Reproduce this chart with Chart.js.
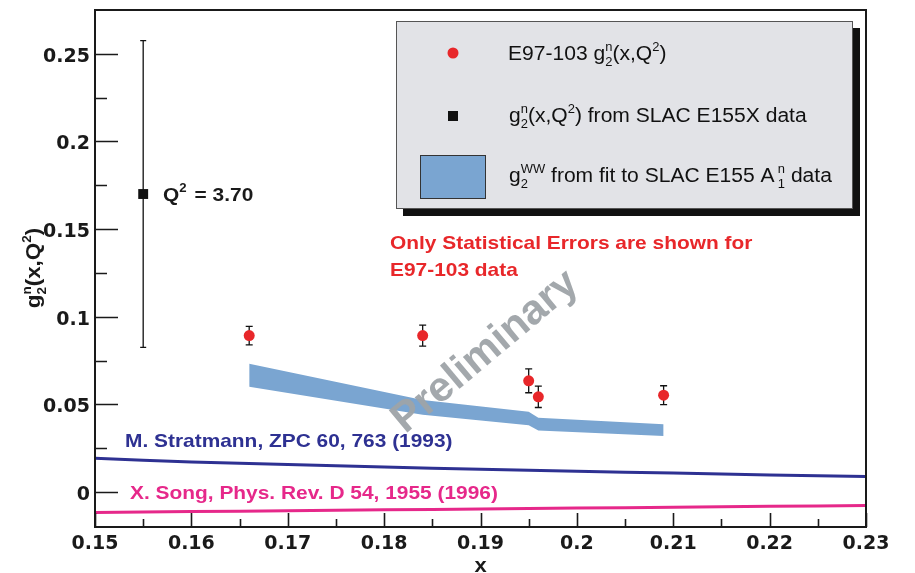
<!DOCTYPE html>
<html>
<head>
<meta charset="utf-8">
<script src="https://cdn.jsdelivr.net/npm/chart.js@4.4.1/dist/chart.umd.min.js"></script>
<style>
  html, body { margin: 0; padding: 0; background: #ffffff; }
  #wrap { width: 915px; height: 573px; }
</style>
</head>
<body>
<div id="wrap"><canvas id="c" width="915" height="573"></canvas></div>
<script>
// ---------------- DATA ----------------
const xTicks = [0.15, 0.16, 0.17, 0.18, 0.19, 0.20, 0.21, 0.22, 0.23];
const xTickLabels = ['0.15', '0.16', '0.17', '0.18', '0.19', '0.2', '0.21', '0.22', '0.23'];
const xMinorTicks = [0.155, 0.165, 0.175, 0.185, 0.195, 0.205, 0.215, 0.225];
const yTicks = [0, 0.05, 0.10, 0.15, 0.20, 0.25];
const yTickLabels = ['0', '0.05', '0.1', '0.15', '0.2', '0.25'];
const yMinorTicks = [0.025, 0.075, 0.125, 0.175, 0.225];

// E97-103 g2n points
const e97X   = [0.166, 0.184, 0.195, 0.196, 0.209];
const e97Y   = [0.0892, 0.0892, 0.0634, 0.0543, 0.0552];
const e97Err = [0.0053, 0.0060, 0.0068, 0.0061, 0.0054];

// SLAC E155X point
const e155X   = [0.155];
const e155Y   = [0.170];
const e155Err = [0.0875];

// g2 WW band
const bandX     = [0.166, 0.184, 0.195, 0.196, 0.209];
const bandUpper = [0.0731, 0.0525, 0.0458, 0.0424, 0.0386];
const bandLower = [0.0600, 0.0440, 0.0380, 0.0351, 0.0319];

// model curves
const curveX       = [0.15, 0.16, 0.17, 0.18, 0.19, 0.20, 0.21, 0.22, 0.23];
const stratmannY   = [0.0192, 0.0171, 0.0156, 0.0142, 0.0129, 0.0118, 0.0108, 0.0097, 0.0088];
const songY        = [-0.0117, -0.0112, -0.0107, -0.0102, -0.0097, -0.0092, -0.0087, -0.0082, -0.0077];

// ---------------- STYLE ----------------
const RED = '#e8272a';
const BAND = '#7aa5d1';
const NAVY = '#2e3192';
const PINK = '#e6288a';
const FONT = '"Liberation Sans", Arial, Helvetica, sans-serif';
const TICKFONT = '"DejaVu Sans", "Liberation Sans", sans-serif';

const pts = (xs, ys) => xs.map((x, i) => ({ x: x, y: ys[i] }));

// rich text helper (supports superscript / subscript stacks)
function drawRich(ctx, parts, x, y, size, weight, color, align, sx) {
  const base = weight + ' ' + size + 'px ' + FONT;
  const small = weight + ' ' + Math.round(size * 0.62) + 'px ' + FONT;
  let w = 0;
  const items = [];
  for (const p of parts) {
    if (typeof p === 'string') {
      ctx.font = base;
      items.push({ t: p, x: w, dy: 0, f: base });
      w += ctx.measureText(p).width;
    } else {
      ctx.font = small;
      w += (p.lead || 0);
      let mw = 0;
      if (p.sup) { items.push({ t: p.sup, x: w, dy: -size * 0.47, f: small }); mw = Math.max(mw, ctx.measureText(p.sup).width); }
      if (p.sub) { items.push({ t: p.sub, x: w, dy: size * 0.30, f: small }); mw = Math.max(mw, ctx.measureText(p.sub).width); }
      w += mw + (p.trail || 0);
    }
  }
  ctx.save();
  ctx.translate(x, y);
  ctx.scale(sx || 1, 1);
  const off = align === 'center' ? -w / 2 : 0;
  ctx.fillStyle = color;
  ctx.textBaseline = 'alphabetic';
  ctx.textAlign = 'left';
  for (const it of items) { ctx.font = it.f; ctx.fillText(it.t, off + it.x, it.dy); }
  ctx.restore();
}

const decorPlugin = {
  id: 'decor',
  beforeDatasetsDraw(chart) {
    const ctx = chart.ctx;
    const xs = chart.scales.x, ys = chart.scales.y;
    ctx.save();
    ctx.strokeStyle = '#111';
    ctx.lineWidth = 1.3;
    const bar = (X, Y, E, cap) => {
      for (let i = 0; i < X.length; i++) {
        const px = xs.getPixelForValue(X[i]);
        const p1 = ys.getPixelForValue(Y[i] + E[i]);
        const p2 = ys.getPixelForValue(Y[i] - E[i]);
        ctx.beginPath();
        ctx.moveTo(px, p1); ctx.lineTo(px, p2);
        ctx.moveTo(px - cap, p1); ctx.lineTo(px + cap, p1);
        ctx.moveTo(px - cap, p2); ctx.lineTo(px + cap, p2);
        ctx.stroke();
      }
    };
    bar(e97X, e97Y, e97Err, 3.5);
    bar(e155X, e155Y, e155Err, 3);
    ctx.restore();
  },
  afterDatasetsDraw(chart) {
    const ctx = chart.ctx;
    const a = chart.chartArea;
    const xs = chart.scales.x, ys = chart.scales.y;
    ctx.save();
    // frame
    ctx.strokeStyle = '#1a1a1a';
    ctx.lineWidth = 2;
    ctx.strokeRect(a.left, a.top, a.right - a.left, a.bottom - a.top);
    // ticks (inside)
    ctx.lineWidth = 1.6;
    ctx.beginPath();
    for (const v of yTicks) { const p = Math.round(ys.getPixelForValue(v)) + 0.5; ctx.moveTo(a.left, p); ctx.lineTo(a.left + 23, p); }
    for (const v of yMinorTicks) { const p = Math.round(ys.getPixelForValue(v)) + 0.5; ctx.moveTo(a.left, p); ctx.lineTo(a.left + 12, p); }
    for (const v of xTicks) { const p = Math.round(xs.getPixelForValue(v)) + 0.5; ctx.moveTo(p, a.bottom); ctx.lineTo(p, a.bottom - 14); }
    for (const v of xMinorTicks) { const p = Math.round(xs.getPixelForValue(v)) + 0.5; ctx.moveTo(p, a.bottom); ctx.lineTo(p, a.bottom - 8); }
    ctx.stroke();

    // axis titles
    drawRich(ctx, ['x'], (a.left + a.right) / 2, 572, 20, 'bold', '#1a1a1a', 'center', 1.1);
    ctx.save();
    ctx.translate(40, 268);
    ctx.rotate(-Math.PI / 2);
    drawRich(ctx, ['g', { sup: 'n', sub: '2' }, '(x,Q', { sup: '2' }, ')'], 0, 0, 20, 'bold', '#1a1a1a', 'center', 1.12);
    ctx.restore();

    // annotations
    drawRich(ctx, ['Q', { sup: '2', trail: 2 }, ' = 3.70'], 163, 201, 19, 'bold', '#1a1a1a', 'left', 1.1);
    drawRich(ctx, ['Only Statistical Errors are shown for'], 390, 249, 19, 'bold', RED, 'left', 1.1);
    drawRich(ctx, ['E97-103 data'], 390, 276, 19, 'bold', RED, 'left', 1.1);
    drawRich(ctx, ['M. Stratmann, ZPC 60, 763 (1993)'], 125, 447, 19, 'bold', NAVY, 'left', 1.1);
    drawRich(ctx, ['X. Song, Phys. Rev. D 54, 1955 (1996)'], 130, 499, 19, 'bold', PINK, 'left', 1.1);

    // legend box with shadow
    ctx.fillStyle = '#111';
    ctx.fillRect(403, 28, 457, 188);
    ctx.fillStyle = '#e2e3e7';
    ctx.fillRect(396, 21, 457, 188);
    ctx.strokeStyle = '#555';
    ctx.lineWidth = 1;
    ctx.strokeRect(396.5, 21.5, 456, 187);
    // legend markers
    ctx.fillStyle = RED;
    ctx.beginPath(); ctx.arc(453, 53, 5.5, 0, Math.PI * 2); ctx.fill();
    ctx.fillStyle = '#111';
    ctx.fillRect(448, 111, 10, 10);
    ctx.fillStyle = BAND;
    ctx.fillRect(420, 155, 66, 44);
    ctx.strokeStyle = '#333';
    ctx.strokeRect(420.5, 155.5, 65, 43);
    // legend texts
    drawRich(ctx, ['E97-103 g', { sup: 'n', sub: '2' }, '(x,Q', { sup: '2' }, ')'], 508, 60, 19.5, 'normal', '#111', 'left', 1.08);
    drawRich(ctx, ['g', { sup: 'n', sub: '2' }, '(x,Q', { sup: '2' }, ') from SLAC E155X data'], 509, 122, 19.5, 'normal', '#111', 'left', 1.08);
    drawRich(ctx, ['g', { sup: 'WW', sub: '2' }, ' from fit to SLAC E155 A', { sup: 'n', sub: '1', lead: 3 }, ' data'], 509, 182, 19.5, 'normal', '#111', 'left', 1.08);

    // watermark
    ctx.save();
    ctx.translate(484, 350);
    ctx.rotate(-40 * Math.PI / 180);
    ctx.globalAlpha = 0.95;
    drawRich(ctx, ['Preliminary'], 0, 14, 42, 'bold', '#9ea3a8', 'center', 1.0);
    ctx.restore();
    ctx.restore();
  }
};

const tickFont = { family: TICKFONT, size: 19, weight: 'bold' };

new Chart(document.getElementById('c'), {
  type: 'line',
  data: {
    datasets: [
      { label: 'E97-103', data: pts(e97X, e97Y), showLine: false, pointRadius: 5.5, pointHoverRadius: 5.5,
        pointBackgroundColor: RED, pointBorderWidth: 0, borderColor: RED, backgroundColor: RED },
      { label: 'E155X', data: pts(e155X, e155Y), showLine: false, pointStyle: 'rect', pointRadius: 7, pointHoverRadius: 7,
        pointBackgroundColor: '#111', pointBorderWidth: 0, borderColor: '#111' },
      { label: 'Stratmann', data: pts(curveX, stratmannY), borderColor: NAVY, borderWidth: 3, pointRadius: 0, fill: false, tension: 0.3 },
      { label: 'Song', data: pts(curveX, songY), borderColor: PINK, borderWidth: 3, pointRadius: 0, fill: false, tension: 0.3 },
      { label: 'band upper', data: pts(bandX, bandUpper), borderWidth: 0, borderColor: BAND, backgroundColor: BAND, pointRadius: 0, fill: '+1', tension: 0 },
      { label: 'band lower', data: pts(bandX, bandLower), borderWidth: 0, borderColor: BAND, backgroundColor: BAND, pointRadius: 0, fill: false, tension: 0 }
    ]
  },
  options: {
    responsive: false,
    devicePixelRatio: 1,
    animation: false,
    layout: { padding: { left: 0, right: 49, top: 10, bottom: 0 } },
    plugins: { legend: { display: false }, tooltip: { enabled: false } },
    events: [],
    scales: {
      x: {
        type: 'linear', min: 0.15, max: 0.23,
        grid: { display: false, drawTicks: false }, border: { display: false },
        afterBuildTicks: s => { s.ticks = xTicks.map(v => ({ value: v })); },
        afterFit: s => { s.height = 46; s.paddingLeft = 0; s.paddingRight = 0; },
        ticks: { font: tickFont, color: '#1a1a1a', padding: 6, maxRotation: 0, minRotation: 0, autoSkip: false,
                 callback: (v, i) => xTickLabels[i] }
      },
      y: {
        type: 'linear', min: -0.02, max: 0.275,
        grid: { display: false, drawTicks: false }, border: { display: false },
        afterBuildTicks: s => { s.ticks = yTicks.map(v => ({ value: v })); },
        afterFit: s => { s.width = 95; s.paddingTop = 0; s.paddingBottom = 0; },
        ticks: { font: tickFont, color: '#1a1a1a', padding: 5, labelOffset: 3, autoSkip: false,
                 callback: (v, i) => yTickLabels[i] }
      }
    }
  },
  plugins: [decorPlugin]
});
</script>
</body>
</html>
